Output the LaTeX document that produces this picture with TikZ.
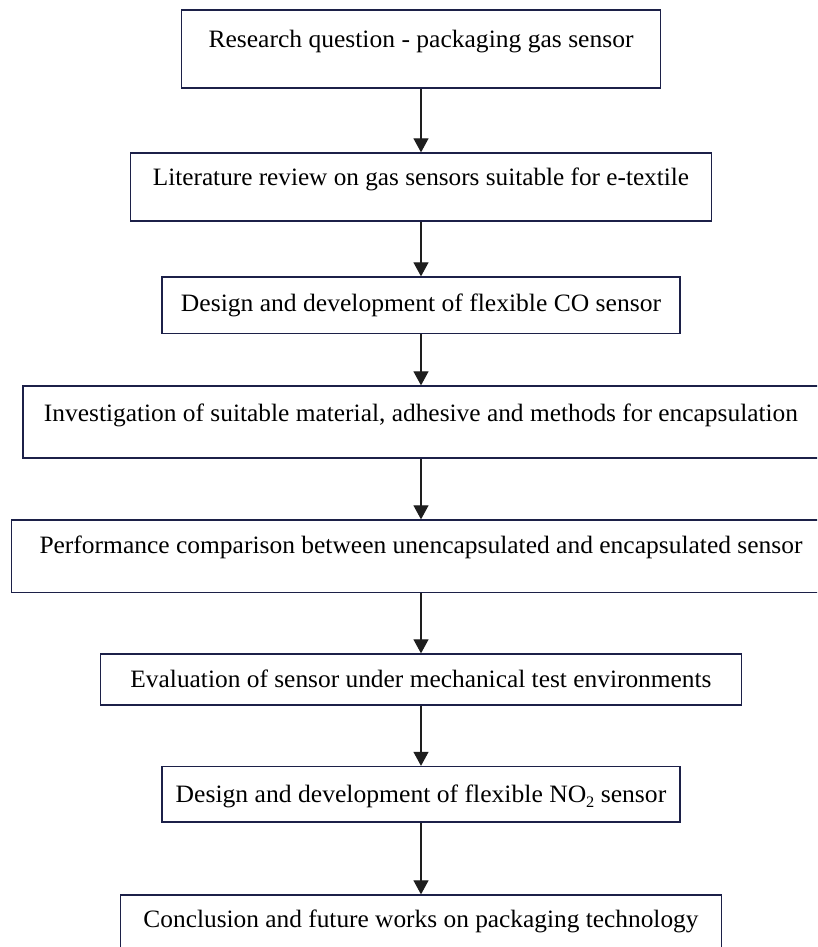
\documentclass[tikz,border=0pt]{standalone}
\usepackage{fontspec}
\setmainfont{Liberation Serif}
\usetikzlibrary{arrows.meta}
\definecolor{boxline}{RGB}{28,32,72}
\definecolor{arrowline}{RGB}{30,30,30}
\newcommand{\fitw}[2]{\resizebox{#1}{\height}{#2}}
\begin{document}
\begin{tikzpicture}[x=1pt,y=-1pt,
  stepbox/.style={draw=boxline, line width=1.3pt, fill=white, inner xsep=0pt, inner ysep=0pt, anchor=base,
     font=\fontsize{25}{30}\selectfont},
  flow/.style={draw=arrowline, line width=1.1pt, -{Triangle[width=15pt,length=14pt]}}]
\useasboundingbox (0,0) rectangle (817,947);
\clip (0,0) rectangle (817,947);
\fill[white] (0,0) rectangle (817,947);

\node[stepbox, minimum width=478.6pt, text height=38pt, text depth=40pt] (b1) at (421,48)
  {\fitw{425pt}{Research question - packaging gas sensor}};
\node[stepbox, minimum width=581.3pt, text height=32pt, text depth=36pt] (b2) at (421,185)
  {\fitw{536pt}{Literature review on gas sensors suitable for e-textile}};
\node[stepbox, minimum width=518pt, text height=34.7pt, text depth=21.8pt] (b3) at (421,311.7)
  {\fitw{480pt}{Design and development of flexible CO sensor}};
\node[stepbox, minimum width=796pt, text height=35pt, text depth=37pt] (b4) at (421,421)
  {\fitw{754pt}{Investigation of suitable material, adhesive and methods for encapsulation}};
\node[stepbox, minimum width=818.6pt, text height=33pt, text depth=39.5pt] (b5) at (421,553)
  {\fitw{763pt}{Performance comparison between unencapsulated and encapsulated sensor}};
\node[stepbox, minimum width=641pt, text height=33pt, text depth=18pt] (b6) at (421,687)
  {\fitw{581pt}{Evaluation of sensor under mechanical test environments}};
\node[stepbox, minimum width=518pt, text height=36.2pt, text depth=19.3pt] (b7) at (421,802.7)
  {\fitw{490.6pt}{Design and development of flexible NO\raisebox{-0.4ex}{\fontsize{16}{16}\selectfont 2} sensor}};
\node[stepbox, minimum width=600.6pt, text height=32pt, text depth=40pt] (b8) at (421,927)
  {\fitw{555pt}{Conclusion and future works on packaging technology}};

\draw[flow] (b1.south) -- (b2.north);
\draw[flow] (b2.south) -- (b3.north);
\draw[flow] (b3.south) -- (b4.north);
\draw[flow] (b4.south) -- (b5.north);
\draw[flow] (b5.south) -- (b6.north);
\draw[flow] (b6.south) -- (b7.north);
\draw[flow] (b7.south) -- (b8.north);
\end{tikzpicture}
\end{document}
